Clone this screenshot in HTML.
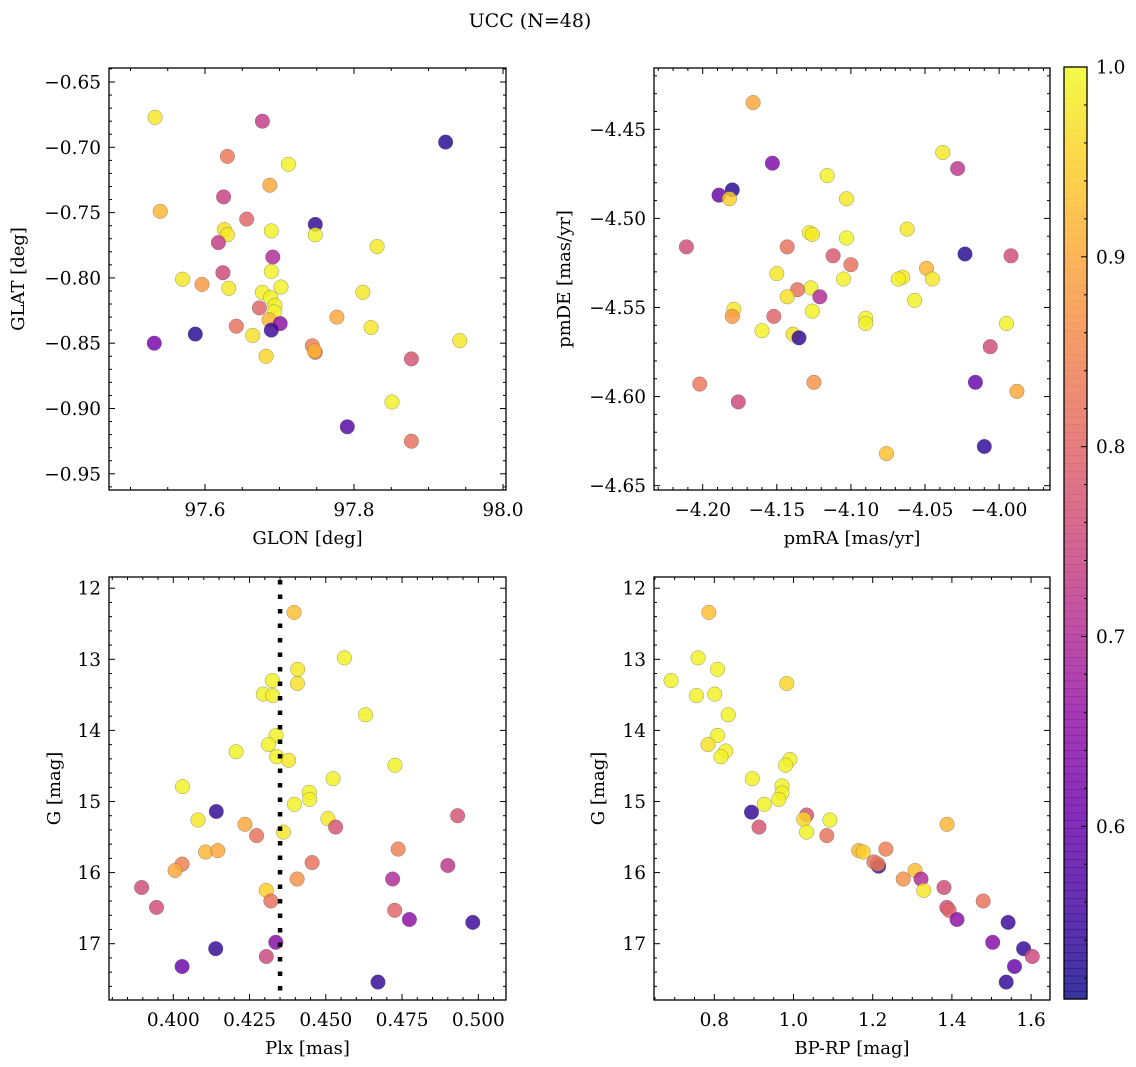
<!DOCTYPE html>
<html><head><meta charset="utf-8">
<style>
html,body{margin:0;padding:0;background:#fff;}
svg{display:block;font-family:"DejaVu Serif","Liberation Serif",serif;}
</style></head>
<body>
<svg id="fig" width="1136" height="1067" viewBox="0 0 1136 1067" xmlns="http://www.w3.org/2000/svg">
<text x="530" y="27" font-size="19" text-anchor="middle">UCC (N=48)</text>
</svg>
<script>
// ---- data: top-left panel (GLON/GLAT) ----
const glon = [97.533,97.677,97.923,97.630,97.712,97.687,97.625,97.540,97.656,97.748,97.626,97.630,97.689,97.748,97.618,97.831,97.691,97.624,97.689,97.570,97.596,97.632,97.702,97.677,97.688,97.812,97.694,97.693,97.673,97.777,97.686,97.701,97.642,97.823,97.689,97.587,97.664,97.532,97.942,97.744,97.748,97.747,97.682,97.877,97.851,97.791,97.877];
const glat = [-0.677,-0.680,-0.696,-0.707,-0.713,-0.729,-0.738,-0.749,-0.755,-0.759,-0.763,-0.767,-0.764,-0.767,-0.773,-0.776,-0.784,-0.796,-0.795,-0.801,-0.805,-0.808,-0.807,-0.811,-0.815,-0.811,-0.821,-0.826,-0.823,-0.830,-0.832,-0.835,-0.837,-0.838,-0.840,-0.843,-0.844,-0.850,-0.848,-0.852,-0.857,-0.856,-0.860,-0.862,-0.895,-0.914,-0.925];
const probTL = [0.98,0.73,0.53,0.83,0.99,0.90,0.74,0.92,0.80,0.54,0.97,0.98,0.99,0.99,0.73,0.98,0.70,0.75,0.99,0.98,0.88,0.98,0.99,0.99,0.99,0.98,0.99,0.99,0.80,0.90,0.92,0.65,0.82,0.98,0.55,0.53,0.97,0.62,0.98,0.84,0.82,0.92,0.96,0.77,0.99,0.58,0.82];
// ---- data: top-right panel (pmRA/pmDE) ----
const pmra = [-4.166,-4.038,-4.153,-4.028,-4.116,-4.189,-4.180,-4.182,-4.103,-4.062,-4.128,-4.126,-4.103,-4.211,-4.143,-4.023,-3.992,-4.112,-4.100,-4.049,-4.150,-4.065,-4.068,-4.045,-4.105,-4.127,-4.136,-4.143,-4.121,-4.057,-4.126,-4.179,-4.180,-4.152,-4.160,-4.139,-4.135,-4.090,-4.090,-3.995,-4.006,-4.016,-4.202,-4.125,-3.988,-4.176,-4.010,-4.076];
const pmde = [-4.435,-4.463,-4.469,-4.472,-4.476,-4.487,-4.484,-4.489,-4.489,-4.506,-4.508,-4.509,-4.511,-4.516,-4.516,-4.520,-4.521,-4.521,-4.526,-4.528,-4.531,-4.533,-4.534,-4.534,-4.534,-4.539,-4.540,-4.544,-4.544,-4.546,-4.552,-4.551,-4.555,-4.555,-4.563,-4.565,-4.567,-4.556,-4.559,-4.559,-4.572,-4.592,-4.593,-4.592,-4.597,-4.603,-4.628,-4.632];
const probTR = [0.90,0.98,0.63,0.72,0.99,0.60,0.53,0.95,0.98,0.98,0.99,0.98,0.99,0.76,0.82,0.53,0.76,0.78,0.82,0.92,0.98,0.98,0.99,0.98,0.99,0.99,0.82,0.97,0.70,0.99,0.99,0.98,0.88,0.80,0.99,0.97,0.54,0.99,0.99,0.99,0.76,0.60,0.83,0.87,0.90,0.75,0.54,0.93];
// ---- data: bottom-left panel (Plx/G) ----
const plx = [0.4396,0.4561,0.4408,0.4407,0.4325,0.4295,0.4326,0.4630,0.4337,0.4312,0.4206,0.4339,0.4378,0.4727,0.4524,0.4030,0.4446,0.4447,0.4397,0.4141,0.4932,0.4081,0.4507,0.4235,0.4532,0.4361,0.4273,0.4737,0.4106,0.4146,0.4455,0.4029,0.4006,0.4900,0.4406,0.4719,0.3896,0.4305,0.4320,0.3945,0.4726,0.4774,0.4982,0.4336,0.4139,0.4305,0.4029,0.4671];
const gBL = [12.34,12.98,13.14,13.34,13.30,13.49,13.51,13.78,14.07,14.20,14.30,14.37,14.42,14.49,14.68,14.79,14.87,14.97,15.04,15.14,15.20,15.26,15.24,15.32,15.36,15.43,15.48,15.67,15.71,15.69,15.86,15.88,15.97,15.90,16.09,16.09,16.21,16.25,16.40,16.49,16.53,16.66,16.70,16.98,17.07,17.18,17.32,17.54];
const probBL = [0.93,0.99,0.98,0.97,0.99,0.99,0.99,0.99,0.99,0.99,0.99,0.99,0.98,0.99,0.99,0.99,0.99,0.99,0.99,0.54,0.77,0.98,0.98,0.90,0.77,0.98,0.82,0.84,0.92,0.90,0.82,0.84,0.90,0.72,0.87,0.70,0.76,0.95,0.82,0.76,0.80,0.65,0.55,0.64,0.54,0.75,0.60,0.54];
const plxMean = [0.435];
// ---- data: bottom-right panel (BP-RP/G) ----
const bprp = [0.786,0.759,0.808,0.691,0.983,0.755,0.801,0.835,0.808,0.784,0.829,0.817,0.991,0.980,0.896,0.971,0.971,0.963,0.926,0.894,1.033,1.026,1.092,1.388,0.913,1.033,1.084,1.233,1.165,1.176,1.203,1.215,1.213,1.307,1.277,1.322,1.329,1.380,1.479,1.387,1.393,1.413,1.542,1.503,1.581,1.603,1.558,1.537];
const gBR = [12.34,12.98,13.14,13.30,13.34,13.51,13.49,13.78,14.07,14.20,14.29,14.37,14.41,14.49,14.68,14.78,14.88,14.97,15.04,15.15,15.19,15.25,15.26,15.32,15.36,15.43,15.48,15.67,15.69,15.71,15.85,15.91,15.88,15.97,16.09,16.09,16.25,16.21,16.40,16.49,16.53,16.66,16.70,16.98,17.07,17.18,17.32,17.54];
const probBR = [0.93,0.99,0.99,0.99,0.96,0.99,0.99,0.99,0.99,0.97,0.99,0.99,0.99,0.99,0.99,0.99,0.99,0.99,0.99,0.54,0.77,0.96,0.99,0.92,0.77,0.99,0.82,0.84,0.92,0.95,0.82,0.55,0.84,0.93,0.87,0.70,0.98,0.76,0.82,0.76,0.80,0.65,0.55,0.64,0.54,0.75,0.60,0.54];
// ---- colorbar ----
const cbTicks = [0.6,0.7,0.8,0.9,1.0];
const cbMin = 0.509, cbMax = 1.0;

const NS = "http://www.w3.org/2000/svg";
const svg = document.getElementById('fig');
function mk(tag, attrs, parent){ const e=document.createElementNS(NS,tag); for(const k in attrs) e.setAttribute(k,attrs[k]); (parent||svg).appendChild(e); return e; }

const stops = ["#0d0887","#41049d","#6a00a8","#8f0da4","#b12a90","#cc4778","#e16462","#f2844b","#fca636","#fcce25","#f0f921"];
function hex(h){return [parseInt(h.slice(1,3),16),parseInt(h.slice(3,5),16),parseInt(h.slice(5,7),16)];}
function plasma(t){ t=Math.max(0,Math.min(1,t)); const f=t*10; const i=Math.min(9,Math.floor(f)); const u=f-i; const a=hex(stops[i]), b=hex(stops[i+1]); return 'rgb('+a.map((v,k)=>Math.round(v+(b[k]-v)*u)).join(',')+')'; }
function pcol(p){ return plasma((p-cbMin)/(cbMax-cbMin)); }
function fmt(v,d){ return (v<0?'\u2212':'')+Math.abs(v).toFixed(d); }

function panel(o){
  const g = mk('g',{});
  
  
  const xs = v => o.x0 + (v-o.xv0)*o.xs;
  const ys = v => o.y0 + (v-o.yv0)*o.ys;
  for(let i=0;i<o.xd.length;i++){
    const c = mk('circle',{cx:xs(o.xd[i]).toFixed(1), cy:ys(o.yd[i]).toFixed(1), r:7.3, fill:pcol(o.pd[i]), 'fill-opacity':0.82, stroke:'#555', 'stroke-width':0.5, 'stroke-opacity':0.6}, g);
    
    
  }
  if(o.after) o.after(g, xs, ys);
  const fr = mk('rect',{x:o.L, y:o.T, width:o.R-o.L, height:o.B-o.T, fill:'none', stroke:'#000','stroke-width':1.3}, g);
  
  
  for(let k=-400;k<=400;k++){
    const v = o.xMinorRef + k*o.xMinor; const px = xs(v);
    if(px<o.L+0.5||px>o.R-0.5) continue;
    const isMaj = Math.abs(Math.round((v-o.xMajRef)/o.xMajor)*o.xMajor-(v-o.xMajRef))<o.xMinor*0.1;
    const len = isMaj?6:3;
    mk('line',{x1:px,x2:px,y1:o.B,y2:o.B-len,stroke:'#000','stroke-width':1},g);
    mk('line',{x1:px,x2:px,y1:o.T,y2:o.T+len,stroke:'#000','stroke-width':1},g);
    if(isMaj){
      const t = mk('text',{x:px,y:o.B+26,'font-size':18.5,'text-anchor':'middle'},g);
      t.textContent = fmt(v,o.xDec);
      
      
    }
  }
  for(let k=-400;k<=400;k++){
    const v = o.yMinorRef + k*o.yMinor; const py = ys(v);
    if(py<o.T+0.5||py>o.B-0.5) continue;
    const isMaj = Math.abs(Math.round((v-o.yMajRef)/o.yMajor)*o.yMajor-(v-o.yMajRef))<o.yMinor*0.1;
    const len = isMaj?6:3;
    mk('line',{x1:o.L,x2:o.L+len,y1:py,y2:py,stroke:'#000','stroke-width':1},g);
    mk('line',{x1:o.R,x2:o.R-len,y1:py,y2:py,stroke:'#000','stroke-width':1},g);
    if(isMaj){
      const t = mk('text',{x:o.L-8,y:py+6.5,'font-size':18.5,'text-anchor':'end'},g);
      t.textContent = fmt(v,o.yDec);
      
      
    }
  }
  const xl = mk('text',{x:(o.L+o.R)/2,y:o.B+54,'font-size':18,'text-anchor':'middle'},g);
  xl.textContent = o.xlabel;
  
  
  const yl = mk('text',{x:0,y:0,'font-size':18,'text-anchor':'middle',transform:'translate('+o.ylx+','+((o.T+o.B)/2)+') rotate(-90)'},g);
  yl.textContent = o.ylabel;
  
  
}

panel({name:'glon-glat-panel',ptname:'star-point',L:109,R:506,T:68,B:490,
  xd:glon,yd:glat,pd:probTL,x0:205,xv0:97.6,xs:745,y0:82,yv0:-0.65,ys:-1306,
  xMinor:0.05,xMinorRef:97.6,xMajor:0.2,xMajRef:97.6,xDec:1,
  yMinor:0.01,yMinorRef:-0.65,yMajor:0.05,yMajRef:-0.65,yDec:2,
  xlabel:'GLON [deg]',ylabel:'GLAT [deg]',ylx:24});
panel({name:'pm-panel',ptname:'star-point',L:654,R:1050,T:68,B:490,
  xd:pmra,yd:pmde,pd:probTR,x0:702.7,xv0:-4.2,xs:1482,y0:129.3,yv0:-4.45,ys:-1782,
  xMinor:0.01,xMinorRef:-4.2,xMajor:0.05,xMajRef:-4.2,xDec:2,
  yMinor:0.01,yMinorRef:-4.45,yMajor:0.05,yMajRef:-4.45,yDec:2,
  xlabel:'pmRA [mas/yr]',ylabel:'pmDE [mas/yr]',ylx:570});
panel({name:'plx-g-panel',ptname:'star-point',L:109,R:506,T:577,B:1000,
  xd:plx,yd:gBL,pd:probBL,x0:173.3,xv0:0.4,xs:3050,y0:588.2,yv0:12,ys:71.1,
  xMinor:0.005,xMinorRef:0.4,xMajor:0.025,xMajRef:0.4,xDec:3,
  yMinor:0.2,yMinorRef:12,yMajor:1,yMajRef:12,yDec:0,
  xlabel:'Plx [mas]',ylabel:'G [mag]',ylx:60,
  after:(g,xs,ys)=>{
    plxMean.forEach(v=>{
      const l = mk('line',{x1:xs(v),x2:xs(v),y1:580,y2:1000,stroke:'#000','stroke-width':4.5,'stroke-dasharray':'4.5 10'},g);
      
      
    });
  }});
panel({name:'cmd-panel',ptname:'star-point',L:654,R:1050,T:577,B:1000,
  xd:bprp,yd:gBR,pd:probBR,x0:714.3,xv0:0.8,xs:396,y0:588.2,yv0:12,ys:71.1,
  xMinor:0.05,xMinorRef:0.8,xMajor:0.2,xMajRef:0.8,xDec:1,
  yMinor:0.2,yMinorRef:12,yMajor:1,yMajRef:12,yDec:0,
  xlabel:'BP-RP [mag]',ylabel:'G [mag]',ylx:604});

(function(){
  const cb = mk('g',{});
  
  
  const L=1064,R=1087,T=67,B=999;
  const N=120;
  for(let i=0;i<N;i++){
    const p0 = cbMin+(cbMax-cbMin)*i/N;
    const y = B-(i+1)*(B-T)/N;
    mk('rect',{x:L,y:y.toFixed(2),width:R-L,height:((B-T)/N+0.6).toFixed(2),fill:pcol(p0+(cbMax-cbMin)/(2*N)),'fill-opacity':0.82},cb);
  }
  mk('rect',{x:L,y:T,width:R-L,height:B-T,fill:'none',stroke:'#000','stroke-width':1.3},cb);
  const cy = p => B-(p-cbMin)/(cbMax-cbMin)*(B-T);
  for(let k=26;k<=50;k++){
    const p=k*0.02; const y=cy(p); if(y<T||y>B) continue;
    const maj = k%5===0;
    mk('line',{x1:R,x2:R-(maj?6:3),y1:y,y2:y,stroke:'#000','stroke-width':1},cb);
  }
  cbTicks.forEach(p=>{
    const t = mk('text',{x:R+9,y:cy(p)+6.5,'font-size':18.5},cb);
    t.textContent = p.toFixed(1);
    
    
  });
})();
</script>
</body></html>
